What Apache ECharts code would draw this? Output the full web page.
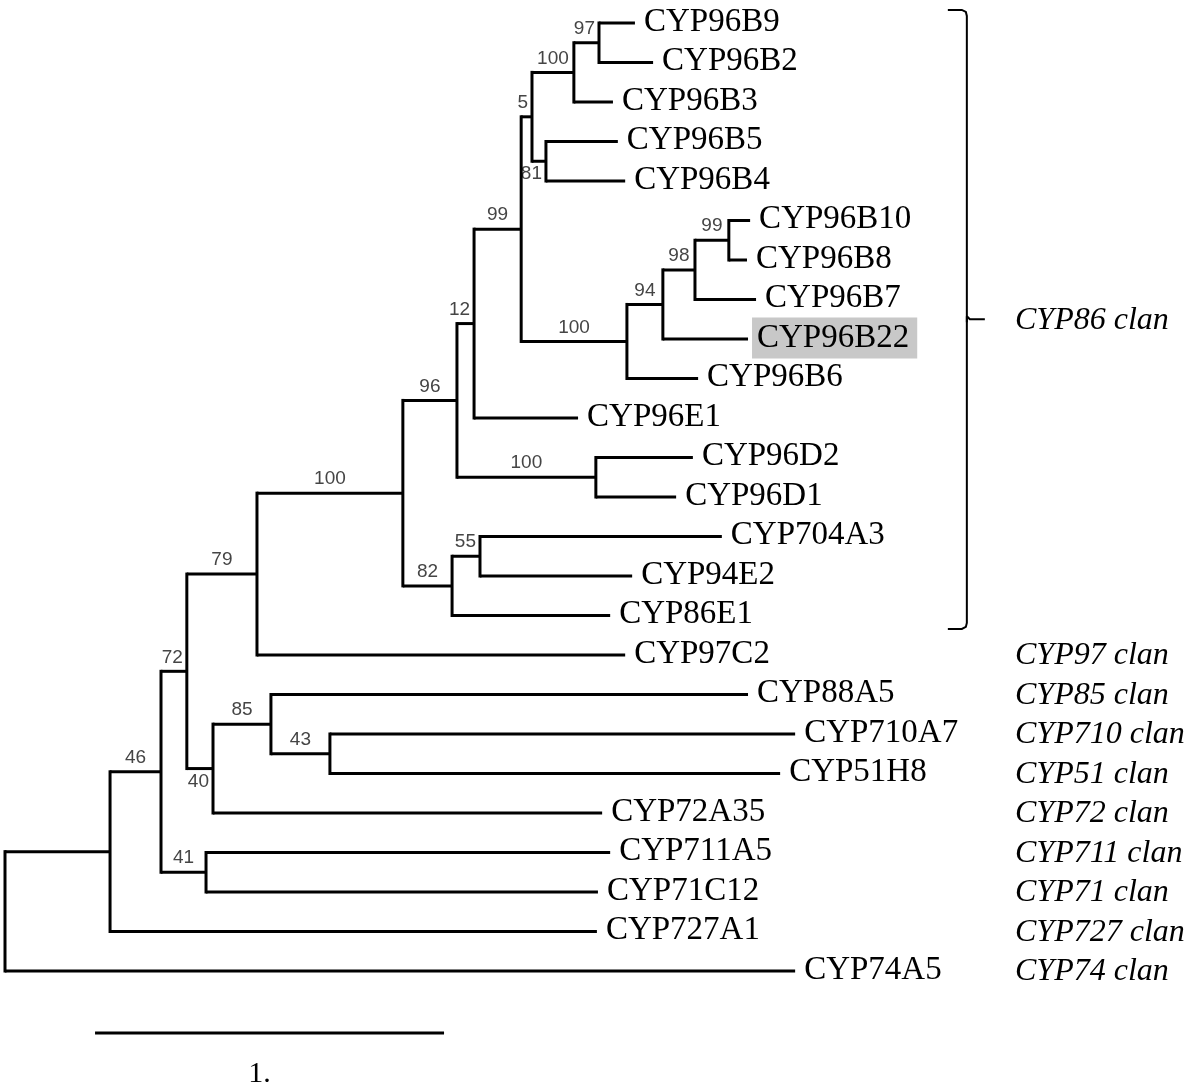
<!DOCTYPE html>
<html>
<head>
<meta charset="utf-8">
<script src="https://cdn.jsdelivr.net/npm/echarts@6/dist/echarts.min.js"></script>
<style>
  html, body { margin: 0; padding: 0; background: #fff; }
  #tree { width: 1200px; height: 1088px; }
</style>
</head>
<body>
<div id="tree"></div>
<script>
// leaves, top to bottom (row = index)
var leafNames = ['CYP96B9', 'CYP96B2', 'CYP96B3', 'CYP96B5', 'CYP96B4',
  'CYP96B10', 'CYP96B8', 'CYP96B7', 'CYP96B22', 'CYP96B6', 'CYP96E1',
  'CYP96D2', 'CYP96D1', 'CYP704A3', 'CYP94E2', 'CYP86E1', 'CYP97C2',
  'CYP88A5', 'CYP710A7', 'CYP51H8', 'CYP72A35', 'CYP711A5', 'CYP71C12',
  'CYP727A1', 'CYP74A5'];
// distance of each leaf from the root, in scale-bar units
var leafDepth = [1.805, 1.857, 1.742, 1.756, 1.777,
  2.135, 2.126, 2.152, 2.129, 1.986, 1.642,
  1.971, 1.923, 2.054, 1.797, 1.734, 1.777,
  2.129, 2.264, 2.221, 1.711, 1.734, 1.699,
  1.696, 2.264];

// internal nodes, children listed before parents.
// ids 0..24 are leaves, id 25 + k is nodeChildren[k]
var nodeChildren = [
  [0, 1], [25, 2], [3, 4], [26, 27],
  [5, 6], [29, 7], [30, 8], [31, 9],
  [28, 32], [33, 10], [11, 12], [34, 35],
  [13, 14], [37, 15], [36, 38], [39, 16],
  [18, 19], [17, 41], [42, 20], [40, 43],
  [21, 22], [44, 45], [46, 23], [47, 24]
];
var nodeDepth = [1.702, 1.630, 1.550, 1.510,
  2.074, 1.977, 1.885, 1.782,
  1.479, 1.344, 1.693, 1.295,
  1.361, 1.281, 1.140, 0.722,
  0.931, 0.762, 0.596, 0.521,
  0.576, 0.447, 0.301, 0];
var nodeSupport = [97, 100, 81, 5,
  99, 98, 94, 100,
  99, 12, 100, 96,
  55, 82, 100, 79,
  43, 85, 40, 72,
  41, 46, null, null];
// support values written under their branch instead of above
var supportBelow = [27, 43];

var highlightLeaf = 'CYP96B22';

var clanNames = ['CYP86 clan', 'CYP97 clan', 'CYP85 clan', 'CYP710 clan',
  'CYP51 clan', 'CYP72 clan', 'CYP711 clan', 'CYP71 clan', 'CYP727 clan',
  'CYP74 clan'];
var clanRows = [7.5, 16, 17, 18, 19, 20, 21, 22, 23, 24];
var braceRows = [0, 15];   // leaves covered by the CYP86 brace

var scaleBarLength = 1;
var scaleBarLabel = '1.';

// build nodes
var nLeaf = leafNames.length;
var nodes = [];
leafNames.forEach(function (name, i) {
  nodes.push({depth: leafDepth[i], y: i, leaf: true, name: name, parent: null});
});
nodeChildren.forEach(function (ch, k) {
  var a = nodes[ch[0]], b = nodes[ch[1]];
  var id = nLeaf + k;
  a.parent = id;
  b.parent = id;
  nodes.push({depth: nodeDepth[k], y: (a.y + b.y) / 2, yMin: a.y, yMax: b.y,
    leaf: false, support: nodeSupport[k], parent: null});
});

var treeData = nodes.map(function (n) {
  var pd = n.parent == null ? n.depth : nodes[n.parent].depth;
  return [n.depth, n.y, pd, n.leaf ? n.y : n.yMin, n.leaf ? n.y : n.yMax];
});

var serif = '"Liberation Serif", "Times New Roman", serif';
var sans = '"Liberation Sans", Arial, sans-serif';
var branchStyle = {stroke: '#000', lineWidth: 3};

function renderTree(params, api) {
  var n = nodes[params.dataIndex];
  var p = api.coord([api.value(0), api.value(1)]);
  var pp = api.coord([api.value(2), api.value(1)]);
  var els = [];
  if (n.parent != null) {
    els.push({type: 'line', shape: {x1: pp[0], y1: p[1], x2: p[0], y2: p[1]}, style: branchStyle});
  }
  if (!n.leaf) {
    var top = api.coord([api.value(0), api.value(3)]);
    var bot = api.coord([api.value(0), api.value(4)]);
    els.push({type: 'line', shape: {x1: p[0], y1: top[1], x2: p[0], y2: bot[1]},
      style: {stroke: '#000', lineWidth: 3, lineCap: 'square'}});
    if (n.support != null) {
      var txt = String(n.support);
      var w = txt.length * 10;
      var len = p[0] - pp[0];
      var below = supportBelow.indexOf(params.dataIndex) >= 0;
      var tx = len < w + 8 ? p[0] - 4 : (p[0] + pp[0]) / 2;
      els.push({type: 'text', style: {
        x: tx, y: p[1] + (below ? 13 : -14), text: txt,
        fill: '#454545', font: '19px ' + sans,
        align: len < w + 8 ? 'right' : 'center', verticalAlign: 'middle'
      }});
    }
  } else {
    var hl = n.name === highlightLeaf;
    els.push({type: 'text', style: {
      x: p[0] + (hl ? 4 : 9), y: p[1] - 1, text: n.name,
      fill: '#000', font: '33px ' + serif,
      align: 'left', verticalAlign: 'middle',
      backgroundColor: hl ? '#c8c8c8' : null,
      padding: hl ? [4, 8, 3, 5] : 0,
      lineHeight: 34
    }});
  }
  return {type: 'group', children: els};
}

var braceX = 2.756;
function renderBrace(params, api) {
  var t = api.coord([braceX, braceRows[0] - 0.33]);
  var b = api.coord([braceX, braceRows[1] + 0.34]);
  var m = api.coord([braceX, (braceRows[0] + braceRows[1]) / 2]);
  var x = t[0];
  return {type: 'group', children: [
    {type: 'polyline', shape: {points: [[x - 19, t[1]], [x - 5, t[1]], [x - 1, t[1] + 2], [x, t[1] + 6],
      [x, b[1] - 6], [x - 1, b[1] - 2], [x - 5, b[1]], [x - 19, b[1]]]},
      style: {stroke: '#000', lineWidth: 2, fill: null}},
    {type: 'polyline', shape: {points: [[x, m[1] - 3], [x + 3, m[1]], [x + 18, m[1]]]},
      style: {stroke: '#000', lineWidth: 2, fill: null}},
    {type: 'line', shape: {x1: x, y1: m[1] - 3, x2: x, y2: m[1] + 3}, style: {stroke: '#000', lineWidth: 2}}
  ]};
}

var clanX = 2.894;
function renderClan(params, api) {
  var p = api.coord([clanX, api.value(0)]);
  return {type: 'text', style: {
    x: p[0], y: p[1] + 1, text: clanNames[params.dataIndex],
    fill: '#000', font: 'italic 32px ' + serif, align: 'left', verticalAlign: 'middle'
  }};
}

var scaleStart = 0.258;
function renderScale(params, api) {
  var a = api.coord([scaleStart, 25.57]);
  var b = api.coord([scaleStart + scaleBarLength, 25.57]);
  var l = api.coord([scaleStart + scaleBarLength / 2, 26.6]);
  return {type: 'group', children: [
    {type: 'line', shape: {x1: a[0], y1: a[1], x2: b[0], y2: b[1]}, style: {stroke: '#000', lineWidth: 3}},
    {type: 'text', style: {x: l[0] - 10, y: l[1], text: scaleBarLabel, fill: '#000',
      font: '30px ' + serif, align: 'center', verticalAlign: 'middle'}}
  ]};
}

var chart = echarts.init(document.getElementById('tree'));
var option = {
  animation: false,
  backgroundColor: '#fff',
  grid: {left: 5, top: 23, width: 349 * 3.42, height: 948},
  xAxis: {type: 'value', min: 0, max: 3.42, show: false},
  yAxis: {type: 'value', min: 0, max: 24, inverse: true, show: false},
  series: [
    {type: 'custom', name: 'tree', clip: false, renderItem: renderTree, data: treeData},
    {type: 'custom', name: 'brace', clip: false, renderItem: renderBrace, data: [[0]]},
    {type: 'custom', name: 'clans', clip: false, renderItem: renderClan,
      data: clanRows.map(function (r) { return [r]; })},
    {type: 'custom', name: 'scale', clip: false, renderItem: renderScale, data: [[0]]}
  ]
};
chart.setOption(option);
</script>
</body>
</html>
